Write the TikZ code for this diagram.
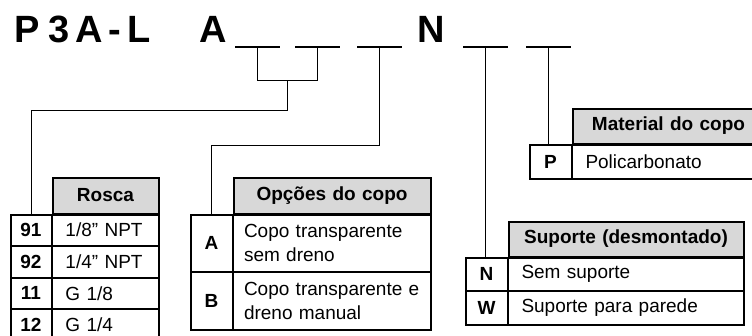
\documentclass[tikz,border=0pt]{standalone}
\usepackage{fontspec}
\setmainfont{Liberation Sans}
\usetikzlibrary{matrix,positioning,calc}

\definecolor{hdrgray}{RGB}{216,216,216}
\newcommand\cellfont{\fontsize{19pt}{24pt}\selectfont}
\newcommand\titlefont{\fontsize{38pt}{42pt}\selectfont\bfseries}

\tikzset{
  tab/.style={matrix of nodes, column sep=0pt, row sep=0pt, inner sep=0pt, outer sep=0pt, anchor=north west,
    nodes={draw, line width=1pt, inner sep=0pt, outer sep=0pt, anchor=center, font=\cellfont}},
  codecell/.style={font=\cellfont\bfseries, minimum width=#1},
  desccell/.style={text width=#1, inner xsep=13pt, align=left},
  hdr/.style={fill=hdrgray, font=\cellfont\bfseries, align=center},
  thk/.style={line width=2pt},
  conn/.style={line width=1pt},
  blank/.style={fill=black, minimum width=45pt, minimum height=2pt, inner sep=0pt, outer sep=0pt}
}

\begin{document}
\begin{tikzpicture}[x=1pt, y=-1pt]
\useasboundingbox (0,0) rectangle (752,335);

% model code
\node[anchor=base west, inner sep=0pt, font=\titlefont] (model) at (14.7,42)
  {P\hspace{7.9pt}3\hspace{5.8pt}A\hspace{6.5pt}-\hspace{5.6pt}L\hspace{48.6pt}A};
\node[anchor=base, inner sep=0pt, font=\titlefont] (nchar) at (431.5,42) {N};

\node[blank] (b1) at (257.5,47) {};
\node[blank] (b2) at (317.5,47) {};
\node[blank] (b3) at (379,47) {};
\node[blank] (b4) at (485.5,47) {};
\node[blank] (b5) at (548,47) {};

% tables
\matrix (rosca)[tab, nodes={minimum height=30.75pt},
  column 1/.style={nodes={codecell=41pt}}, column 2/.style={nodes={desccell=80pt}}] at (10,177)
{
 & |[hdr, minimum height=36pt]| Rosca \\
91 & 1/8” NPT \\
92 & 1/4” NPT \\
11 & G 1/8 \\
12 & G 1/4 \\
};

\matrix (opc)[tab, nodes={minimum height=57pt},
  column 1/.style={nodes={codecell=42pt}}, column 2/.style={nodes={desccell=176pt, inner xsep=10.5pt}}] at (190,177)
{
 & |[hdr, minimum height=36pt]| Opções do copo \\
A & Copo transparente sem dreno \\
B & Copo transparente e dreno manual \\
};

\matrix (mat)[tab, nodes={minimum height=34pt},
  column 1/.style={nodes={codecell=42pt}}, column 2/.style={nodes={desccell=166pt}}] at (529,108)
{
 & |[hdr, minimum height=35pt]| Material do copo \\
P & Policarbonato \\
};

\matrix (sup)[tab, nodes={minimum height=33pt},
  column 1/.style={nodes={codecell=42pt}}, column 2/.style={nodes={desccell=209pt}}] at (465,221)
{
 & |[hdr, minimum height=35pt]| Suporte (desmontado) \\
N & Sem suporte \\
W & Suporte para parede \\
};

% heavy frames
\draw[thk] (rosca-1-2.north west) rectangle (rosca-1-2.south east);
\draw[thk] (rosca-2-1.north west) rectangle (rosca-5-2.south east);
\draw[thk] (rosca-2-1.north east)--(rosca-5-1.south east);

\draw[thk] (opc-1-2.north west) rectangle (opc-1-2.south east);
\draw[thk] (opc-2-1.north west) rectangle (opc-3-2.south east);
\draw[thk] (opc-2-1.north east)--(opc-3-1.south east);

\draw[thk] (mat-1-2.north west) rectangle (mat-1-2.south east);
\draw[thk] (mat-2-1.north west) rectangle (mat-2-2.south east);
\draw[thk] (mat-2-1.north east)--(mat-2-1.south east);

\draw[thk] (sup-1-2.north west) rectangle (sup-1-2.south east);
\draw[thk] (sup-2-1.north west) rectangle (sup-3-2.south east);
\draw[thk] (sup-2-1.north east)--(sup-3-1.south east);

% leaders
\draw[conn] (b1.south) -- ++(0,32) -| (b2.south);
\draw[conn] ($(b1.south)!.5!(b2.south)$) ++(0,32) -- ++(0,30) -| (rosca-2-1.north);
\draw[conn] (b3.south) -- ++(0,97) -| (opc-2-1.north);
\draw[conn] (b4.south) -- (b4.south |- sup-2-1.north);
\draw[conn] (b5.south) -- (b5.south |- mat-2-1.north);

\end{tikzpicture}
\end{document}
